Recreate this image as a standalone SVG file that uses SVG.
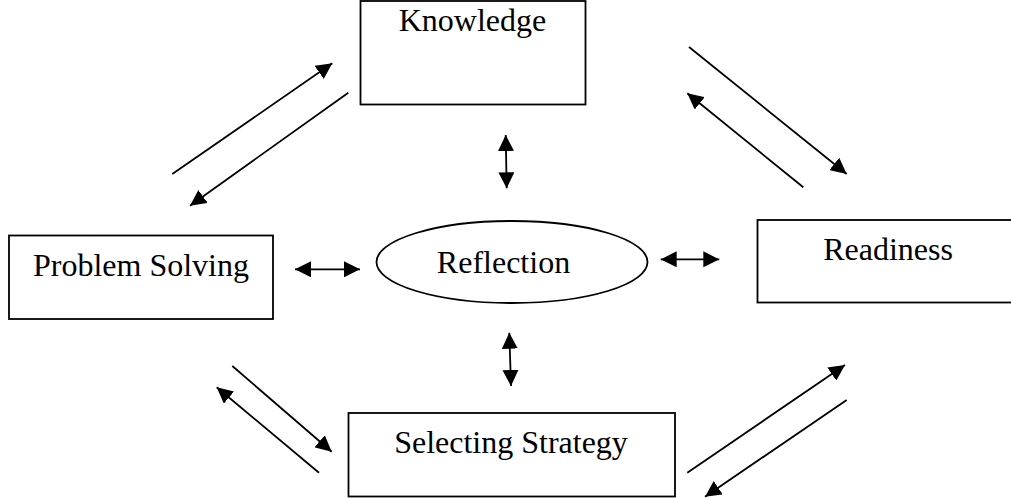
<svg xmlns="http://www.w3.org/2000/svg" width="1011" height="498" viewBox="0 0 1011 498">
<defs>
<style>
.box{fill:#fff;stroke:#000;stroke-width:1.8}
.lbl{font-family:"Liberation Serif","Times New Roman",serif;font-size:32px;fill:#000;text-anchor:middle}
.c{stroke:#000;stroke-width:1.8;fill:none}
.one{marker-end:url(#ah)}
.two{marker-start:url(#ah);marker-end:url(#ah)}
</style>
<marker id="ah" viewBox="0 0 16 16" refX="16" refY="8" markerWidth="16" markerHeight="16" markerUnits="userSpaceOnUse" orient="auto-start-reverse">
<path d="M0,0 L16,8 L0,16 Z" fill="#000"/>
</marker>
</defs>
<rect width="1011" height="498" fill="#fff"/>
<g id="knowledge">
<rect class="box" x="360.5" y="1" width="225" height="103.5"/>
<text class="lbl" x="472.5" y="31">Knowledge</text>
</g>
<g id="problem-solving">
<rect class="box" x="9" y="235.5" width="264" height="83.5"/>
<text class="lbl" x="141" y="276">Problem Solving</text>
</g>
<g id="reflection">
<ellipse class="box" cx="512" cy="262" rx="135.5" ry="41"/>
<text class="lbl" x="503.5" y="273">Reflection</text>
</g>
<g id="readiness">
<rect class="box" x="757.5" y="220" width="260" height="82.5"/>
<text class="lbl" x="888" y="260">Readiness</text>
</g>
<g id="selecting-strategy">
<rect class="box" x="348.5" y="413" width="326.5" height="83.5"/>
<text class="lbl" x="511" y="453">Selecting Strategy</text>
</g>
<g id="connectors">
<line class="c one" x1="172.3" y1="174" x2="332.3" y2="63.3"/>
<line class="c one" x1="348.3" y1="92.7" x2="190" y2="205.7"/>
<line class="c one" x1="689" y1="47" x2="846.7" y2="174"/>
<line class="c one" x1="803.3" y1="187.3" x2="687.3" y2="93.3"/>
<line class="c one" x1="232.3" y1="366" x2="331.7" y2="451.7"/>
<line class="c one" x1="319" y1="472.7" x2="216.7" y2="387.3"/>
<line class="c one" x1="687.3" y1="472.7" x2="845" y2="365"/>
<line class="c one" x1="846.7" y1="400" x2="705" y2="496.7"/>
<line class="c two" x1="295" y1="269.3" x2="360" y2="269.3"/>
<line class="c two" x1="660.7" y1="259.3" x2="719.3" y2="259.3"/>
<line class="c two" x1="505.7" y1="135" x2="506.7" y2="188.3"/>
<line class="c two" x1="509.3" y1="332.7" x2="511" y2="386"/>
</g>
</svg>
